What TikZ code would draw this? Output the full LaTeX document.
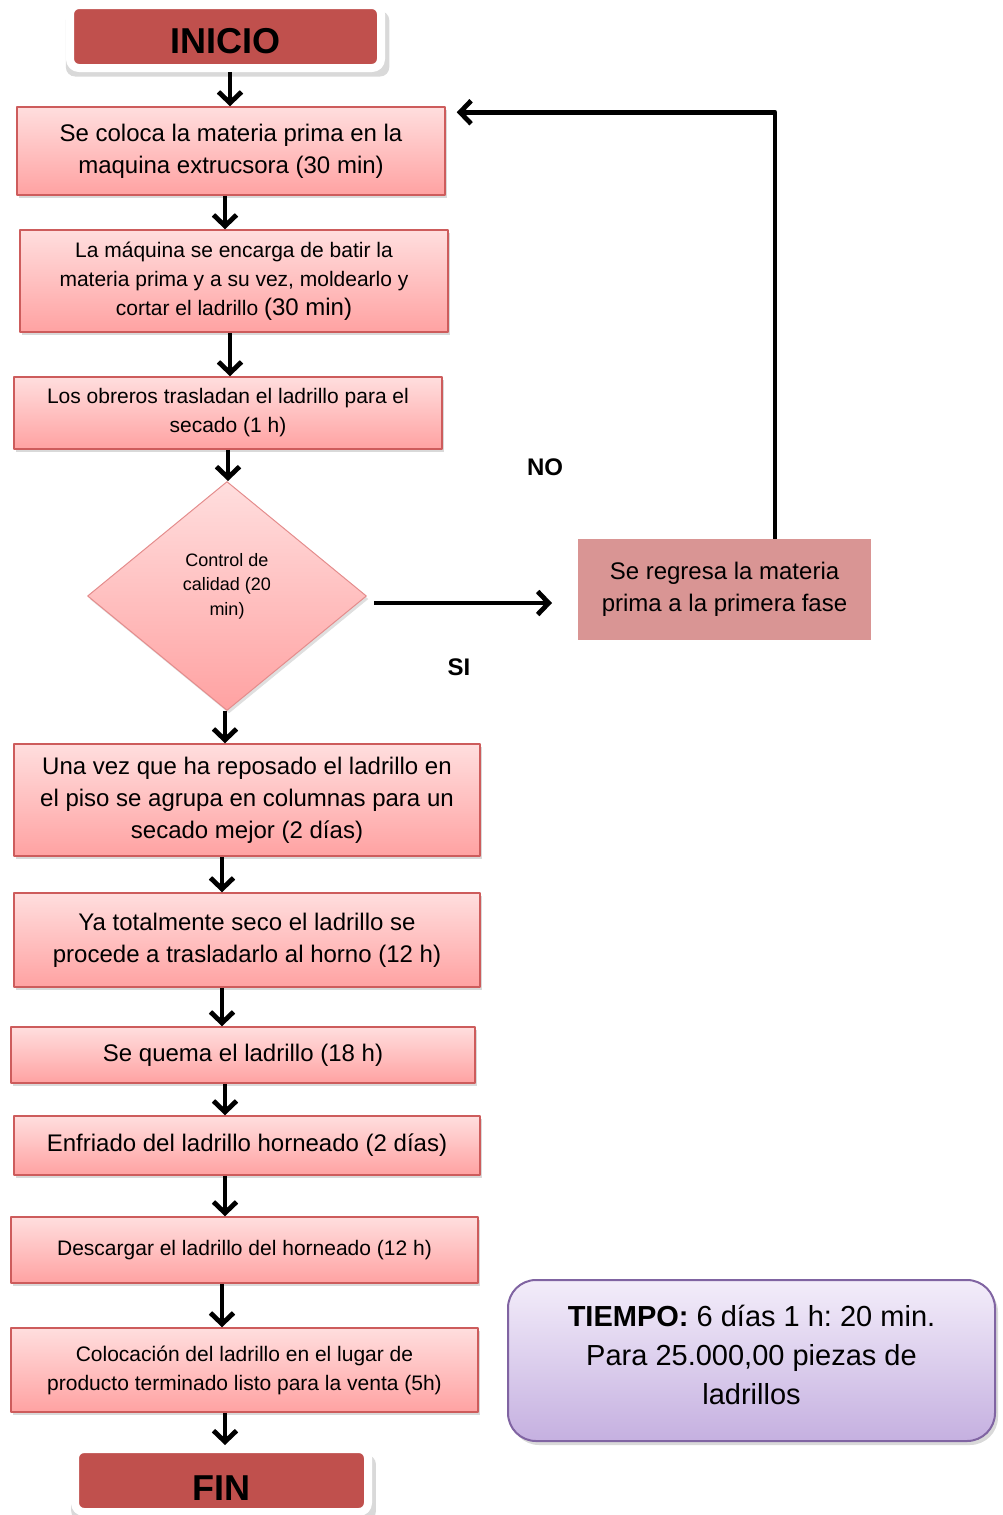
\documentclass[tikz,border=0pt]{standalone}
\usepackage{fontspec}
\setmainfont{Liberation Sans}
\frenchspacing
\usetikzlibrary{arrows.meta,shapes.geometric,shadows}
\definecolor{rojo}{RGB}{192,80,77}
\definecolor{rosaT}{RGB}{255,222,222}
\definecolor{rosaB}{RGB}{255,162,162}
\definecolor{bordeR}{RGB}{205,92,92}
\definecolor{bordeD}{RGB}{228,140,140}
\definecolor{regreso}{RGB}{217,149,148}
\definecolor{lilaT}{RGB}{243,237,250}
\definecolor{lilaB}{RGB}{197,176,224}
\definecolor{morado}{RGB}{128,100,162}
\begin{document}
\begin{tikzpicture}[x=1pt,y=-1pt,>={Straight Barb[length=11pt,width=23pt]},line join=round,
	caja/.style={draw=bordeR,line width=1.5pt,top color=rosaT,bottom color=rosaB,align=center,inner sep=0pt,
		font=\fontsize{24}{32}\selectfont,drop shadow={shadow xshift=2pt,shadow yshift=-3pt,opacity=.3}},
	chica/.style={font=\fontsize{21}{29}\selectfont},
	term/.style={draw=white,line width=8pt,fill=rojo,rounded corners=9pt,inner sep=0pt,text depth=0pt,
		font=\bfseries\fontsize{36}{36}\selectfont,drop shadow={shadow xshift=2pt,shadow yshift=-7pt,opacity=.3,shadow scale=1.04}},
	flecha/.style={->,line width=4.8pt}]
	\useasboundingbox (0,0) rectangle (1003,1515);
	% inicio y fin
	\node[term,minimum width=311pt,minimum height=63pt,text height=33pt] (ini) at (225.5,36.5) {INICIO};
	\node[term,minimum width=293pt,minimum height=63pt,text height=39pt] (fin) at (221.5,1480.5) {FIN};
	% cajas del proceso
	\node[caja,minimum width=428pt,minimum height=88pt] (b1) at (231,151) {Se coloca la materia prima en la\\maquina extrucsora (30 min)};
	\node[caja,chica,minimum width=428pt,minimum height=102pt] (b2) at (234,281) {La máquina se encarga de batir la\\materia prima y a su vez, moldearlo y\\cortar el ladrillo {\fontsize{24}{29}\selectfont(30 min)}};
	\node[caja,chica,minimum width=428pt,minimum height=72pt] (b3) at (228,413) {Los obreros trasladan el ladrillo para el\\secado (1 h)};
	\node[diamond,draw=bordeD,line width=1pt,top color=rosaT,bottom color=rosaB,minimum width=279pt,minimum height=229pt,
		inner sep=0pt,drop shadow={shadow xshift=2pt,shadow yshift=-3pt,opacity=.25}] (ctrl) at (227,596) {};
	\node[align=center,font=\fontsize{18}{24.5}\selectfont] (ctrltxt) at (227,586) {Control de\\calidad (20\\min)};
	\node[caja,minimum width=466pt,minimum height=112pt] (b4) at (247,800) {Una vez que ha reposado el ladrillo en\\el piso se agrupa en columnas para un\\secado mejor (2 días)};
	\node[caja,minimum width=466pt,minimum height=94pt] (b5) at (247,940) {Ya totalmente seco el ladrillo se\\procede a trasladarlo al horno (12 h)};
	\node[caja,minimum width=464pt,minimum height=56pt] (b6) at (243,1055) {Se quema el ladrillo (18 h)};
	\node[caja,minimum width=466pt,minimum height=59pt] (b7) at (247,1145.5) {Enfriado del ladrillo horneado (2 días)};
	\node[caja,chica,minimum width=467pt,minimum height=66pt] (b8) at (244.5,1250) {Descargar el ladrillo del horneado (12 h)};
	\node[caja,chica,minimum width=467pt,minimum height=84pt] (b9) at (244.5,1370) {Colocación del ladrillo en el lugar de\\producto terminado listo para la venta (5h)};
	% rama del no y tiempo total
	\node[fill=regreso,minimum width=293pt,minimum height=101pt,inner sep=0pt,align=center,
		font=\fontsize{24}{32}\selectfont] (reg) at (724.5,589.5) {Se regresa la materia\\prima a la primera fase};
	\node[draw=morado,line width=2pt,rounded corners=28pt,top color=lilaT,bottom color=lilaB,minimum width=487pt,minimum height=161pt,
		inner sep=0pt,drop shadow={shadow xshift=3pt,shadow yshift=-4pt,opacity=.3}] (tpo) at (751.5,1360.5) {};
	\node[align=center,font=\fontsize{29}{39}\selectfont] (tpotxt) at (751.5,1355) {\textbf{TIEMPO:} 6 días 1 h: 20 min.\\Para 25.000,00 piezas de\\ladrillos};
	\node[font=\bfseries\fontsize{24}{24}\selectfont] (no) at (545,467) {NO};
	\node[font=\bfseries\fontsize{24}{24}\selectfont] (si) at (459,667) {SI};
	% flechas
	\foreach \a/\b/\x in {ini/b1/230,b1/b2/225,b2/b3/230,b3/ctrl/228,ctrl/b4/225,b4/b5/222,b5/b6/222,b6/b7/225,b7/b8/225,b8/b9/222,b9/fin/225}
		\draw[flecha] (\a.south -| \x,0) -- (\b.north -| \x,0);
	\coordinate (sfin) at (552,603);
	\draw[flecha] ([xshift=7pt,yshift=-7pt]ctrl.east) -- (sfin);
	\draw[flecha] (reg.north -| 775,0) |- ([xshift=11pt,yshift=-6pt]b1.north east);
\end{tikzpicture}
\end{document}
